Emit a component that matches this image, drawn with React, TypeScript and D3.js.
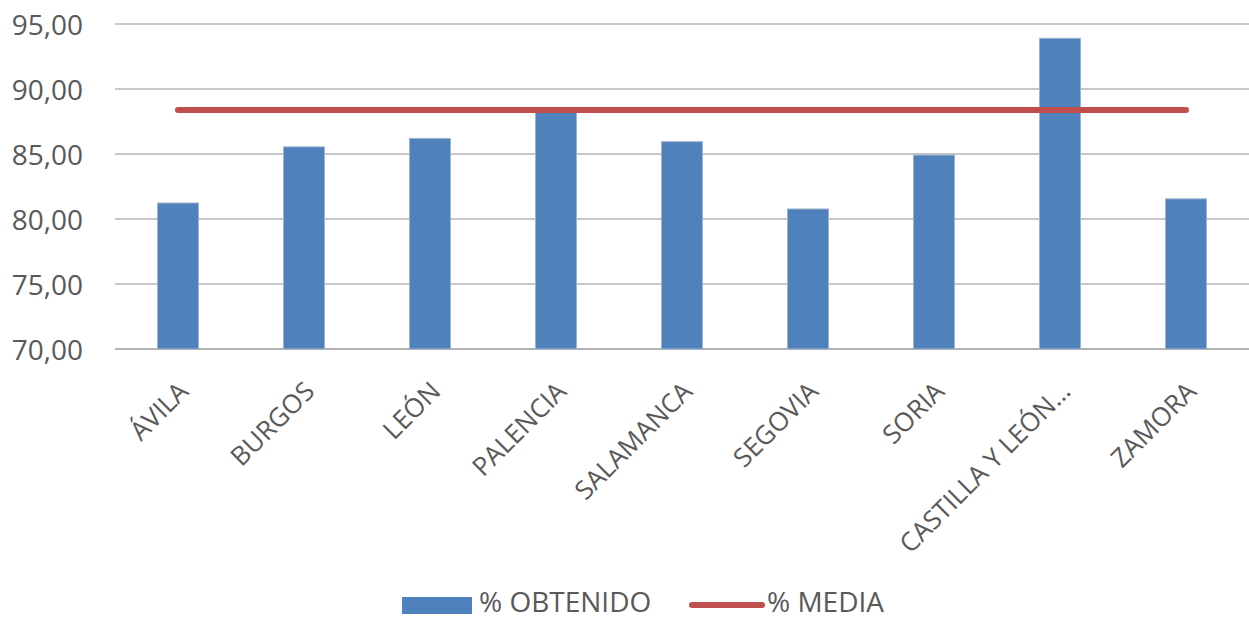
import React from "react";
import * as d3 from "d3";

const categories = ["ÁVILA", "BURGOS", "LEÓN", "PALENCIA", "SALAMANCA", "SEGOVIA", "SORIA", "CASTILLA Y LEÓN…", "ZAMORA"];
const obtenido = [81.23, 85.55, 86.2, 88.5, 85.95, 80.77, 84.92, 93.9, 81.55];
const media = [88.38, 88.38, 88.38, 88.38, 88.38, 88.38, 88.38, 88.38, 88.38];
const yTicks = [70, 75, 80, 85, 90, 95];
const seriesNames = ["% OBTENIDO", "% MEDIA"];

const W = 1249;
const H = 619;
const FONT = "'Open Sans', sans-serif";
const TEXT = "#595959";
const BLUE = "#4F81BD";
const RED = "#C0504D";

export default function App() {
  const x = d3.scaleBand<string>().domain(categories).range([115, 1249]).paddingInner(0.675).paddingOuter(0.3375);
  const y = d3.scaleLinear().domain([70, 95]).range([349, 24]);
  const cx = (c: string) => (x(c) as number) + x.bandwidth() / 2;
  const line = d3
    .line<number>()
    .x((_, i) => cx(categories[i]))
    .y((d) => y(d));
  const fmt = (v: number) => v.toFixed(2).replace(".", ",");

  return (
    <svg width={W} height={H} style={{ position: "absolute", left: 0, top: 0, background: "#fff" }} fontFamily={FONT}>
      <rect x={0} y={0} width={W} height={H} fill="#fff" />
      {yTicks.map((t) => (
        <g key={t}>
          <line x1={115} x2={1249} y1={y(t)} y2={y(t)} stroke={t === 70 ? "#b3b3b3" : "#c8c8c8"} strokeWidth={2} />
          <text x={83} y={y(t) + 11} textAnchor="end" fontSize={28} fill={TEXT}>
            {fmt(t)}
          </text>
        </g>
      ))}
      {categories.map((c, i) => (
        <rect
          key={c}
          x={x(c)}
          y={y(obtenido[i])}
          width={x.bandwidth()}
          height={y(70) - y(obtenido[i])}
          fill={BLUE}
          stroke="#9fb3cc"
          strokeWidth={1}
        />
      ))}
      <path d={line(media) as string} fill="none" stroke={RED} strokeWidth={6} strokeLinecap="round" />
      {categories.map((c) => (
        <text
          key={c}
          transform={`translate(${cx(c) + 12},393) rotate(-45)`}
          textAnchor="end"
          fontSize={26}
          fill={TEXT}
        >
          {c}
        </text>
      ))}
      <g>
        <rect x={402} y={597} width={70} height={17} fill={BLUE} />
        <text x={479} y={612} fontSize={28} fill={TEXT}>
          {seriesNames[0]}
        </text>
        <line x1={692} x2={762} y1={605} y2={605} stroke={RED} strokeWidth={6} strokeLinecap="round" />
        <text x={767} y={612} fontSize={28} fill={TEXT}>
          {seriesNames[1]}
        </text>
      </g>
    </svg>
  );
}
